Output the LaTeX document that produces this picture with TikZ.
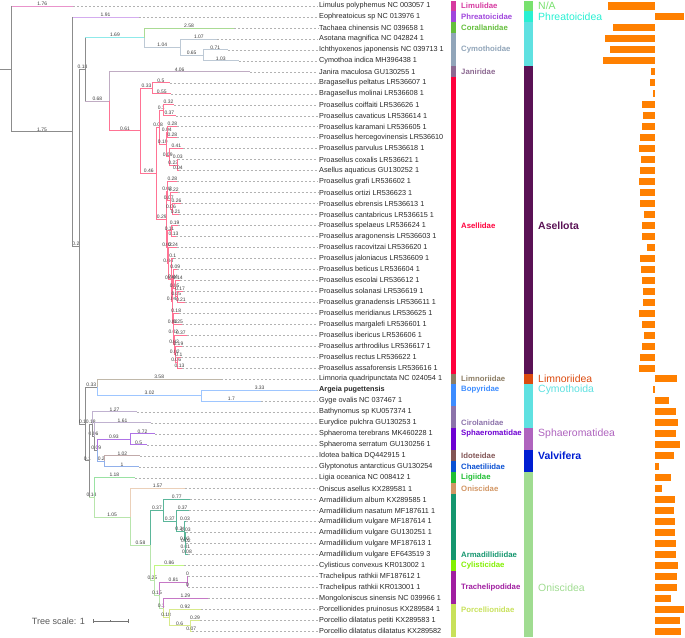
\documentclass[tikz,border=0pt]{standalone}
\usepackage{fontspec}
\setmainfont{Liberation Sans}
\usetikzlibrary{calc}
\definecolor{TreeGray}{RGB}{140,140,140}
\definecolor{LabelGray}{RGB}{60,60,60}
\definecolor{LeafInk}{RGB}{40,40,40}
\definecolor{LimPink}{RGB}{214,58,160}
\definecolor{PhrPurple}{RGB}{160,70,220}
\definecolor{CorGreen}{RGB}{100,190,60}
\definecolor{CymSlate}{RGB}{145,165,185}
\definecolor{JanMauve}{RGB}{140,105,145}
\definecolor{AseRed}{RGB}{255,0,60}
\definecolor{LimnTan}{RGB}{140,125,100}
\definecolor{BopBlue}{RGB}{60,140,255}
\definecolor{CirMauve}{RGB}{140,115,170}
\definecolor{SphViolet}{RGB}{110,0,210}
\definecolor{IdoBrown}{RGB}{130,85,85}
\definecolor{ChaBlue}{RGB}{10,80,210}
\definecolor{LigGreen}{RGB}{30,190,50}
\definecolor{OniPeach}{RGB}{210,150,100}
\definecolor{ArmTeal}{RGB}{20,150,110}
\definecolor{CylLime}{RGB}{130,240,0}
\definecolor{TraMagenta}{RGB}{160,30,160}
\definecolor{PorYellow}{RGB}{200,225,90}
\definecolor{NAGreen}{RGB}{120,225,110}
\definecolor{PhrTurq}{RGB}{40,240,210}
\definecolor{CymCyan}{RGB}{95,225,225}
\definecolor{AslPlum}{RGB}{90,18,85}
\definecolor{LmnOrange}{RGB}{220,75,15}
\definecolor{SphOrchid}{RGB}{175,100,190}
\definecolor{ValBlue}{RGB}{0,30,210}
\definecolor{OniMint}{RGB}{160,220,145}
\definecolor{BarOrange}{RGB}{255,128,0}
\colorlet{bGray}{TreeGray}\colorlet{bLim}{LimPink!55}\colorlet{bPhr}{PhrPurple!45}\colorlet{bCyan}{CymCyan!70}
\colorlet{bCor}{CorGreen!55}\colorlet{bCym}{CymSlate!60}\colorlet{bJan}{JanMauve!55}\colorlet{bAse}{AseRed!55}
\colorlet{bLmn}{LimnTan!55}\colorlet{bBop}{BopBlue!50}\colorlet{bCir}{CirMauve!55}\colorlet{bSph}{SphViolet!55}
\colorlet{bIdo}{IdoBrown!50}\colorlet{bCha}{ChaBlue!45}\colorlet{bOni}{OniMint!75}\colorlet{bLig}{LigGreen!45}
\colorlet{bOnc}{OniPeach!45}\colorlet{bArm}{ArmTeal!70}\colorlet{bCyl}{CylLime!50}\colorlet{bTra}{TraMagenta!60}\colorlet{bPor}{PorYellow!70}

\begin{document}
\begin{tikzpicture}[x=1bp,y=-1bp,
 br/.style={line width=0.8bp},
 bb/.style={TreeGray,line width=0.8bp},
 bl/.style={pos=0.75,above,inner sep=0.3bp,font=\fontsize{5}{5}\selectfont,text=LabelGray},
 leaf/.style={anchor=west,inner sep=1bp,font=\fontsize{7.3}{8}\selectfont,text=LeafInk},
 lead/.style={black!30,line width=0.4bp,dash pattern=on 2bp off 2bp},
 fam/.style={anchor=west,inner sep=1bp,font=\fontsize{7.8}{8}\selectfont\bfseries},
 ord/.style={anchor=west,inner sep=1bp,font=\fontsize{10.5}{11}\selectfont}]
\useasboundingbox (0,0) rectangle (685,638);

% tree: x in branch length, y in rows
\begin{scope}[shift={(11.7,-4.97)},x=34.7bp,y=-10.97bp]
\coordinate (stem) at (-0.34,6.74); \coordinate (root) at (0,6.74); \coordinate (isop) at (1.75,12.47); \coordinate (core) at (1.95,22.94);
\coordinate (cyas) at (2.13,6.78); \coordinate (cymo) at (3.82,3.875); \coordinate (cymA) at (4.86,4.75); \coordinate (cymB) at (5.51,5.5);
\coordinate (asel) at (2.81,9.69); \coordinate (asl1) at (3.72,12.375); \coordinate (brag) at (4.05,8.5); \coordinate (asl2) at (4.18,16.25);
\coordinate (pro1) at (4.26,12.06); \coordinate (P1) at (4.36,10.5); \coordinate (Q) at (4.45,13.625); \coordinate (R) at (4.49,12.5);
\coordinate (S) at (4.54,14.75); \coordinate (T) at (4.77,15.5); \coordinate (N) at (4.47,20.43);
\coordinate (U) at (4.49,17.875); \coordinate (U1) at (4.56,18.75); \coordinate (U2) at (4.62,19.5);
\coordinate (V) at (4.49,22.99); \coordinate (W) at (4.60,21.5); \coordinate (X) at (4.53,24.48); \coordinate (X1) at (4.59,25.96); \coordinate (X2) at (4.63,27.92);
\coordinate (Y) at (4.67,25.875); \coordinate (Y1) at (4.72,26.75); \coordinate (Y2) at (4.77,27.5);
\coordinate (Z) at (4.65,29.97); \coordinate (Z1) at (4.67,30.94); \coordinate (Z2) at (4.69,31.875); \coordinate (Z3) at (4.71,32.75); \coordinate (Z4) at (4.77,33.5);
\coordinate (lower) at (2.13,39.1); \coordinate (limn) at (2.46,35.75); \coordinate (bopy) at (5.48,36.5); \coordinate (low2) at (2.23,42.46);
\coordinate (ciro) at (2.33,39.125); \coordinate (ciro2) at (2.39,40.25); \coordinate (sphv) at (2.48,41.5); \coordinate (sphae) at (3.41,40.5); \coordinate (valv) at (2.68,42.5);
\coordinate (onis) at (2.37,45.79); \coordinate (onis2) at (3.42,47.58); \coordinate (crin) at (4.00,50.16);
\coordinate (arma) at (4.37,46.97); \coordinate (arma2) at (4.74,47.94); \coordinate (arma3) at (4.98,48.875); \coordinate (arma4) at (5.00,49.75); \coordinate (arma5) at (5.01,50.5);
\coordinate (cyli) at (4.11,53.34); \coordinate (trach0) at (4.26,54.69); \coordinate (trach) at (5.07,53.5);
\coordinate (porc0) at (4.36,55.875); \coordinate (porc) at (4.54,56.75); \coordinate (porc2) at (5.14,57.5);
\foreach \x [count=\i] in {1.76,3.66,6.40,5.93,6.22,6.54,6.87,4.55,4.60,4.68,4.73,4.77,4.77,4.95,4.80,4.81,4.77,4.78,4.88,4.83,4.79,4.73,4.77,4.69,4.76,4.86,4.94,4.98,4.83,4.92,5.06,4.90,4.87,4.90,6.04,8.81,7.18,3.60,4.00,4.13,3.91,3.70,3.68,3.55,4.99,5.14,5.11,5.01,5.03,5.03,5.09,4.97,5.07,5.07,5.65,5.46,5.43,5.21}
  {\coordinate (l\i) at (\x,\i);}
\foreach \p/\c/\v/\k in {root/l1/1.76/bLim,root/isop/1.75/bGray,isop/l2/1.91/bPhr,isop/core/0.2/bGray,core/cyas/0.18/bGray,core/lower/0.1/bGray,
  cyas/cymo/1.69/bCyan,cymo/l3/2.58/bCor,cymo/cymA/1.04/bCym,cymA/l4/1.07/bCym,cymA/cymB/0.65/bCym,cymB/l5/0.71/bCym,cymB/l6/1.03/bCym,
  cyas/asel/0.68/bJan,asel/l7/4.06/bJan,asel/asl1/0.61/bAse,asl1/brag/0.33/bAse,brag/l8/0.5/bAse,brag/l9/0.55/bAse,asl1/asl2/0.46/bAse,
  asl2/pro1/0.08/bAse,pro1/P1/0.1/bAse,P1/l10/0.32/bAse,P1/l11/0.37/bAse,pro1/Q/0.19/bAse,Q/R/0.04/bAse,R/l12/0.28/bAse,R/l13/0.28/bAse,
  Q/S/0.09/bAse,S/l14/0.41/bAse,S/T/0.23/bAse,T/l15/0.03/bAse,T/l16/0.04/bAse,
  asl2/N/0.29/bAse,N/U/0.02/bAse,U/l17/0.28/bAse,U/U1/0.07/bAse,U1/l18/0.22/bAse,U1/U2/0.06/bAse,U2/l19/0.26/bAse,U2/l20/0.21/bAse,
  N/V/0.02/bAse,V/W/0.11/bAse,W/l21/0.19/bAse,W/l22/0.13/bAse,V/X/0.04/bAse,X/l23/0.24/bAse,X/X1/0.06/bAse,X1/l24/0.1/bAse,X1/X2/0.04/bAse,
  X2/Y/0.04/bAse,Y/l25/0.09/bAse,Y/Y1/0.05/bAse,Y1/l26/0.14/bAse,Y1/Y2/0.05/bAse,Y2/l27/0.17/bAse,Y2/l28/0.21/bAse,
  X2/Z/0.02/bAse,Z/l29/0.18/bAse,Z/Z1/0.02/bAse,Z1/l30/0.25/bAse,Z1/Z2/0.02/bAse,Z2/l31/0.37/bAse,Z2/Z3/0.02/bAse,Z3/l32/0.19/bAse,
  Z3/Z4/0.06/bAse,Z4/l33/0.1/bAse,Z4/l34/0.13/bAse,
  lower/limn/0.33/bGray,limn/l35/3.58/bLmn,limn/bopy/3.02/bBop,bopy/l36/3.33/bBop,bopy/l37/1.7/bBop,lower/low2/0.1/bGray,
  low2/ciro/0.18/bGray,ciro/l38/1.27/bCir,ciro/ciro2/0.06/bGray,ciro2/l39/1.61/bCir,ciro2/sphv/0.09/bGray,
  sphv/sphae/0.93/bSph,sphae/l40/0.72/bSph,sphae/l41/0.5/bSph,sphv/valv/0.2/bCha,valv/l42/1.02/bIdo,valv/l43/1/bCha,
  low2/onis/0.14/bOni,onis/l44/1.18/bLig,onis/onis2/1.05/bOni,onis2/l45/1.57/bOnc,onis2/crin/0.58/bOni,
  crin/arma/0.37/bArm,arma/l46/0.77/bArm,arma/arma2/0.37/bArm,arma2/l47/0.37/bArm,arma2/arma3/0.24/bArm,arma3/l48/0.03/bArm,
  arma3/arma4/0.02/bArm,arma4/l49/0.03/bArm,arma4/arma5/0.01/bArm,arma5/l50/0.02/bArm,arma5/l51/0.08/bArm,
  crin/cyli/0.25/bOni,cyli/l52/0.86/bCyl,cyli/trach0/0.15/bOni,trach0/trach/0.81/bTra,trach/l53/0/bTra,trach/l54/0/bTra,
  trach0/porc0/0.1/bOni,porc0/l55/1.29/bTra,porc0/porc/0.18/bPor,porc/l56/0.92/bPor,porc/porc2/0.6/bPor,porc2/l57/0.29/bPor,porc2/l58/0.07/bPor}
  {\draw[br,\k] (\p) |- (\c) node[bl]{\v};}
\draw[bb] (stem) -- (root);
\foreach \p/\a/\b in {root/l1/isop,isop/l2/core,cyas/cymo/asel,low2/ciro/onis}{\draw[bb] (\p |- \a) -- (\p |- \b);}
\end{scope}

% rows: leaf labels, strips, bars
\begin{scope}[shift={(0,-4.97)},y=-10.97bp]
\foreach \n [count=\i] in {Limulus polyphemus NC 003057 1,Eophreatoicus sp NC 013976 1,Tachaea chinensis NC 039658 1,Asotana magnifica NC 042824 1,
  Ichthyoxenos japonensis NC 039713 1,Cymothoa indica MH396438 1,Janira maculosa GU130255 1,Bragasellus peltatus LR536607 1,Bragasellus molinai LR536608 1,
  Proasellus coiffaiti LR536626 1,Proasellus cavaticus LR536614 1,Proasellus karamani LR536605 1,Proasellus hercegovinensis LR536610,
  Proasellus parvulus LR536618 1,Proasellus coxalis LR536621 1,Asellus aquaticus GU130252 1,Proasellus grafi LR536602 1,Proasellus ortizi LR536623 1,
  Proasellus ebrensis LR536613 1,Proasellus cantabricus LR536615 1,Proasellus spelaeus LR536624 1,Proasellus aragonensis LR536603 1,
  Proasellus racovitzai LR536620 1,Proasellus jaloniacus LR536609 1,Proasellus beticus LR536604 1,Proasellus escolai LR536612 1,
  Proasellus solanasi LR536619 1,Proasellus granadensis LR536611 1,Proasellus meridianus LR536625 1,Proasellus margalefi LR536601 1,
  Proasellus ibericus LR536606 1,Proasellus arthrodilus LR536617 1,Proasellus rectus LR536622 1,Proasellus assaforensis LR536616 1,
  Limnoria quadripunctata NC 024054 1,{\bfseries Argeia pugettensis},Gyge ovalis NC 037467 1,Bathynomus sp KU057374 1,Eurydice pulchra GU130253 1,
  Sphaeroma terebrans MK460228 1,Sphaeroma serratum GU130256 1,Idotea baltica DQ442915 1,Glyptonotus antarcticus GU130254,Ligia oceanica NC 008412 1,
  Oniscus asellus KX289581 1,Armadillidium album KX289585 1,Armadillidium nasatum MF187611 1,Armadillidium vulgare MF187614 1,
  Armadillidium vulgare GU130251 1,Armadillidium vulgare MF187613 1,Armadillidium vulgare EF643519 3,Cylisticus convexus KR013002 1,
  Trachelipus rathkii MF187612 1,Trachelipus rathkii KR013001 1,Mongoloniscus sinensis NC 039966 1,Porcellionides pruinosus KX289584 1,
  Porcellio dilatatus petiti KX289583 1,Porcellio dilatatus dilatatus KX289582}
  {\node[leaf] (t\i) at (318,\i) {\n}; \draw[lead] (l\i) -- (t\i.west);}
\foreach \a/\b/\m/\c/\t [count=\k] in {1/1/1/LimPink/Limulidae,2/2/2/PhrPurple/Phreatoicidae,3/3/3/CorGreen/Corallanidae,4/6/5/CymSlate/Cymothoidae,
  7/7/7/JanMauve/Janiridae,8/34/21/AseRed/Asellidae,35/35/35/LimnTan/Limnoriidae,36/37/36/BopBlue/Bopyridae,38/39/39/CirMauve/Cirolanidae,
  40/41/40/SphViolet/Sphaeromatidae,42/42/42/IdoBrown/Idoteidae,43/43/43/ChaBlue/Chaetiliidae,44/44/44/LigGreen/Ligiidae,45/45/45/OniPeach/Oniscidae,
  46/51/51/ArmTeal/Armadillidiidae,52/52/52/CylLime/Cylisticidae,53/55/54/TraMagenta/Trachelipodidae,56/58/56/PorYellow/Porcellionidae}
  {\fill[\c] (451,\a-0.5) rectangle (456,\b+0.5); \node[fam,text=\c] (fam\k) at (460,\m) {\t};}
\foreach \a/\b/\c in {1/1/NAGreen,2/2/PhrTurq,3/6/CymCyan,7/34/AslPlum,35/35/LmnOrange,36/39/CymCyan,40/41/SphOrchid,42/43/ValBlue,44/58/OniMint}
  {\fill[\c] (523.5,\a-0.5) rectangle (532.5,\b+0.5);}
\foreach \m/\c/\t [count=\k] in {1/NAGreen/{N/A},2/PhrTurq/Phreatoicidea,21/AslPlum/{\bfseries Asellota},35/LmnOrange/Limnoriidea,
  36/CymCyan/Cymothoida,40/SphOrchid/Sphaeromatidea,42/ValBlue/{\bfseries Valvifera},54/OniMint/Oniscidea}
  {\node[ord,text=\c] (ord\k) at (537,\m) {\t};}
\foreach \v [count=\i] in {-47,29.3,-41.7,-49.7,-44.3,-52,-3.3,-4.3,-1.7,-12.3,-11.7,-12.7,-15,-16,-13.7,-14.3,-16,-14.3,-15,-11,-12.7,-12.7,-7.3,-14.7,
  -13.3,-12.3,-11.3,-11.3,-16,-12.7,-10.7,-12.3,-14.7,-15.7,22.3,-1.3,14,21,23.3,21,25.7,19,4.3,16,7.3,20.3,19,20.7,20.7,21.3,21.3,23,22,22.3,16,29.3,25.7,26.3}
  {\fill[BarOrange] (654.7,\i-0.32) rectangle ++(\v,0.64);}
\end{scope}

\node[anchor=west,inner sep=0,font=\fontsize{9.1}{10}\selectfont,text=black!65] (scale) at (31.7,621) {Tree scale: 1};
\coordinate (sc0) at (93,621); \coordinate (sc1) at (128,621);
\draw[black!55,line width=0.8bp] (sc0) -- (sc1); \draw[black!55,line width=0.6bp] (sc0) ++(0,-2) -- ++(0,4) (sc1) ++(0,-2) -- ++(0,4) ($(sc0)!0.5!(sc1)$) ++(0,-0.8) -- ++(0,1.6);
\end{tikzpicture}
\end{document}
